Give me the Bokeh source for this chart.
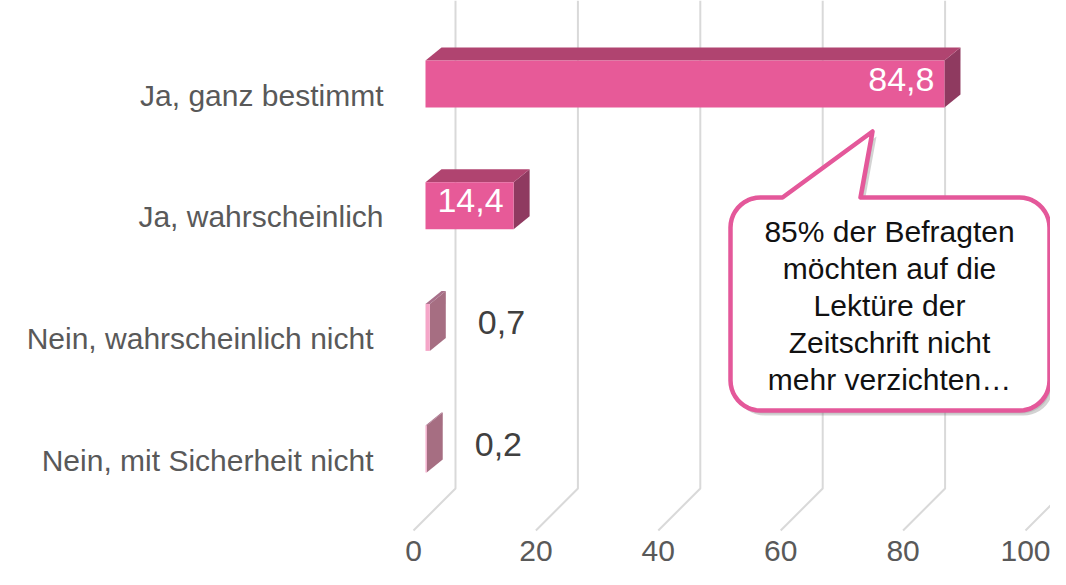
import numpy as np
from bokeh.plotting import figure
from bokeh.models import Range1d
from bokeh.core.properties import value
from bokeh.embed import file_html
from bokeh.resources import INLINE

# ---------------- data ----------------
categories = ["Ja, ganz bestimmt", "Ja, wahrscheinlich",
              "Nein, wahrscheinlich nicht", "Nein, mit Sicherheit nicht"]
values = [84.8, 14.4, 0.7, 0.2]
value_labels = ["84,8", "14,4", "0,7", "0,2"]
tick_values = [0, 20, 40, 60, 80, 100]
tick_labels = ["0", "20", "40", "60", "80", "100"]
callout_lines = ["85% der Befragten", "möchten auf die", "Lektüre der",
                 "Zeitschrift nicht", "mehr verzichten…"]

# ---------------- layout / scale ----------------
W, H = 1050, 569
SHIFT_X = 8
SHIFT_Y = 10
XS = 6.12      # px per percent
YS = 121.7     # px per category slot
X0_PAGE = 433.0
Y0_PAGE = 93.5

def px(d):
    return d / XS

def py(d):
    return d / YS

def page_y(yp):
    return (yp - Y0_PAGE) / YS

x_start = -(X0_PAGE - SHIFT_X) / XS
x_end = x_start + W / XS
y_top = -(Y0_PAGE - SHIFT_Y) / YS
y_bottom = y_top + H / YS

p = figure(width=W, height=H, x_range=Range1d(x_start, x_end),
           y_range=Range1d(start=y_bottom, end=y_top),
           output_backend="svg", toolbar_location=None, min_border=0,
           x_axis_location=None, y_axis_location=None)
p.grid.visible = False
p.outline_line_color = None
p.background_fill_color = "white"

FONT = value("Liberation Sans")

# ---------------- 3D grid ----------------
back_dx = px(30)
front_dx = px(-12)
gx, gy = [], []
for g in tick_values:
    gx.append([g + back_dx, g + back_dx, g + front_dx])
    gy.append([page_y(10), page_y(498), page_y(540)])
p.multi_line(gx, gy, line_color="#D9D9D9", line_width=2)

# ---------------- 3D bars ----------------
h = py(47)
ddx = px(16)
ddy = py(-13)
front_col = ["#E75A98", "#E75A98", "#F5A6C8", "#F5A6C8"]
top_col = ["#B04470", "#B04470", "#A8708A", "#A8708A"]
side_col = ["#8F3A60", "#8F3A60", "#A66E82", "#A66E82"]

xs, ys, cols = [], [], []
for i, v in enumerate(values):
    t = i - h / 2
    b = i + h / 2
    xs.append([v, v + ddx, v + ddx, v]); ys.append([t, t + ddy, b + ddy, b]); cols.append(side_col[i])
    xs.append([0, ddx, v + ddx, v]); ys.append([t, t + ddy, t + ddy, t]); cols.append(top_col[i])
    xs.append([0, v, v, 0]); ys.append([t, t, b, b]); cols.append(front_col[i])
p.patches(xs, ys, fill_color=cols, line_color=None)

# ---------------- category labels ----------------
label_right = [391, 391, 381, 381]
p.text(x=[px(r - X0_PAGE) for r in label_right],
       y=[i + py(11) for i in range(len(categories))],
       text=categories, text_align="right", text_baseline="middle",
       text_font=FONT, text_font_size="30px", text_color="#595959")

# ---------------- value labels ----------------
for i, (v, lab) in enumerate(zip(values, value_labels)):
    if v > 10:
        p.text(x=[v + px(-10)], y=[i + py(-5)], text=[lab], text_align="right",
               text_baseline="middle", text_font=FONT, text_font_size="34px",
               text_color="white")
    else:
        p.text(x=[v + px(48)], y=[i + py(-5)], text=[lab], text_align="left",
               text_baseline="middle", text_font=FONT, text_font_size="34px",
               text_color="#404040")

# ---------------- x tick labels ----------------
p.text(x=[g + px(-12) for g in tick_values], y=[page_y(560)] * len(tick_values),
       text=tick_labels, text_align="center", text_baseline="middle",
       text_font=FONT, text_font_size="30px", text_color="#595959")

# ---------------- callout ----------------
def rounded_box(l, r, t, b, rad, tail):
    pts = []
    n = 12
    for a in np.linspace(np.pi, 1.5 * np.pi, n):
        pts.append((l + rad + rad * np.cos(a), t + rad + rad * np.sin(a)))
    pts.extend(tail)
    for a in np.linspace(1.5 * np.pi, 2 * np.pi, n):
        pts.append((r - rad + rad * np.cos(a), t + rad + rad * np.sin(a)))
    for a in np.linspace(0, 0.5 * np.pi, n):
        pts.append((r - rad + rad * np.cos(a), b - rad + rad * np.sin(a)))
    for a in np.linspace(0.5 * np.pi, np.pi, n):
        pts.append((l + rad + rad * np.cos(a), b - rad + rad * np.sin(a)))
    return pts

box_l, box_r, box_t, box_b = 738, 1057, 207, 420
tail_pts = [(790, box_t), (880, 141), (868, box_t)]
pts = rounded_box(box_l, box_r, box_t, box_b, 30, tail_pts)

def to_data(pts, ox=0, oy=0):
    return ([px(x + ox - X0_PAGE) for x, _ in pts],
            [page_y(y + oy) for _, y in pts])

sx, sy = to_data(pts, 4, 5)
p.patch(sx, sy, fill_color="#808080", fill_alpha=0.35, line_color=None)
sx2, sy2 = to_data(pts, 2, 3)
p.patch(sx2, sy2, fill_color="#808080", fill_alpha=0.25, line_color=None)
cx, cy = to_data(pts)
p.patch(cx, cy, fill_color="white", line_color="#E4589A", line_width=4.5,
        line_join="round")

p.text(x=[px(897 - X0_PAGE)] * len(callout_lines),
       y=[page_y(241 + 37 * k) for k in range(len(callout_lines))],
       text=callout_lines, text_align="center", text_baseline="middle",
       text_font=FONT, text_font_size="30px", text_color="#111111")

open("out.html", "w").write(file_html(p, INLINE))
